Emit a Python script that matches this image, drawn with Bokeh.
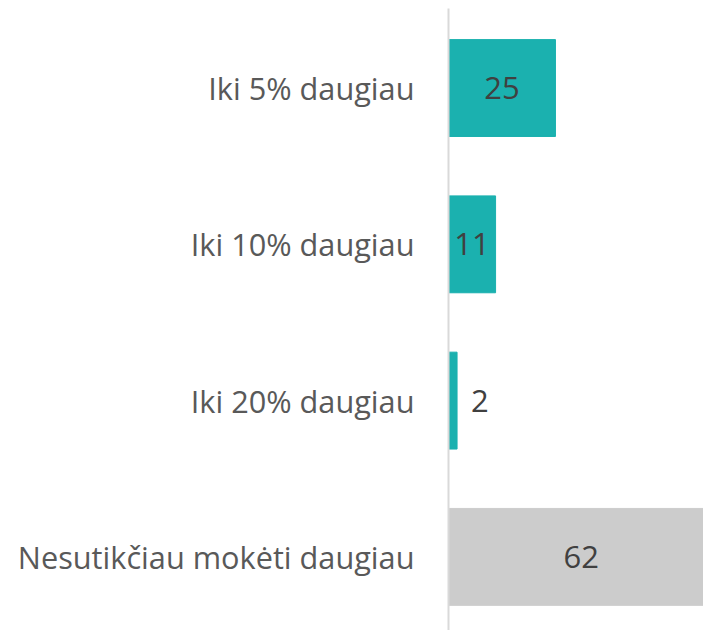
from bokeh.plotting import figure
from bokeh.models import ColumnDataSource, Range1d, FixedTicker
from bokeh.core.properties import value
from bokeh.embed import file_html
from bokeh.resources import INLINE

categories = ["Iki 5% daugiau", "Iki 10% daugiau", "Iki 20% daugiau", "Nesutikčiau mokėti daugiau"]
values = [25, 11, 2, 62]
colors = ["#1BB1AF", "#1BB1AF", "#1BB1AF", "#CCCCCC"]

n = len(categories)
ypos = [n - 1 - i for i in range(n)]

FONT = "Open Sans"

p = figure(width=703, height=630, output_backend="svg", toolbar_location=None,
           x_range=Range1d(0, 59.6), y_range=Range1d(-0.471, 3.509),
           min_border_left=448, min_border_right=0, min_border_top=8, min_border_bottom=0)

src = ColumnDataSource(dict(y=ypos, v=values, c=colors, cat=categories,
                            lx=[v / 2 if v >= 5 else v for v in values],
                            al=["center" if v >= 5 else "left" for v in values],
                            xo=[0 if v >= 5 else 14 for v in values],
                            lbl=[str(v) for v in values]))
p.hbar(y="y", left=0, right="v", height=0.62, color="c", source=src)
p.text(x="lx", y="y", text="lbl", text_align="al", x_offset="xo", text_baseline="middle",
       text_font=value(FONT), text_font_size="31px", text_color="#404040", source=src)

p.xaxis.visible = False
p.xgrid.visible = False
p.ygrid.visible = False
p.outline_line_color = None

ya = p.yaxis[0]
ya.ticker = FixedTicker(ticks=ypos)
ya.major_label_overrides = {y: c for y, c in zip(ypos, categories)}
ya.major_tick_line_color = None
ya.minor_tick_line_color = None
ya.axis_line_color = "#D9D9D9"
ya.axis_line_width = 2
ya.major_label_standoff = 28
ya.major_label_text_font = FONT
ya.major_label_text_font_size = "30.7px"
ya.major_label_text_color = "#595959"

open("out.html", "w").write(file_html(p, INLINE))
